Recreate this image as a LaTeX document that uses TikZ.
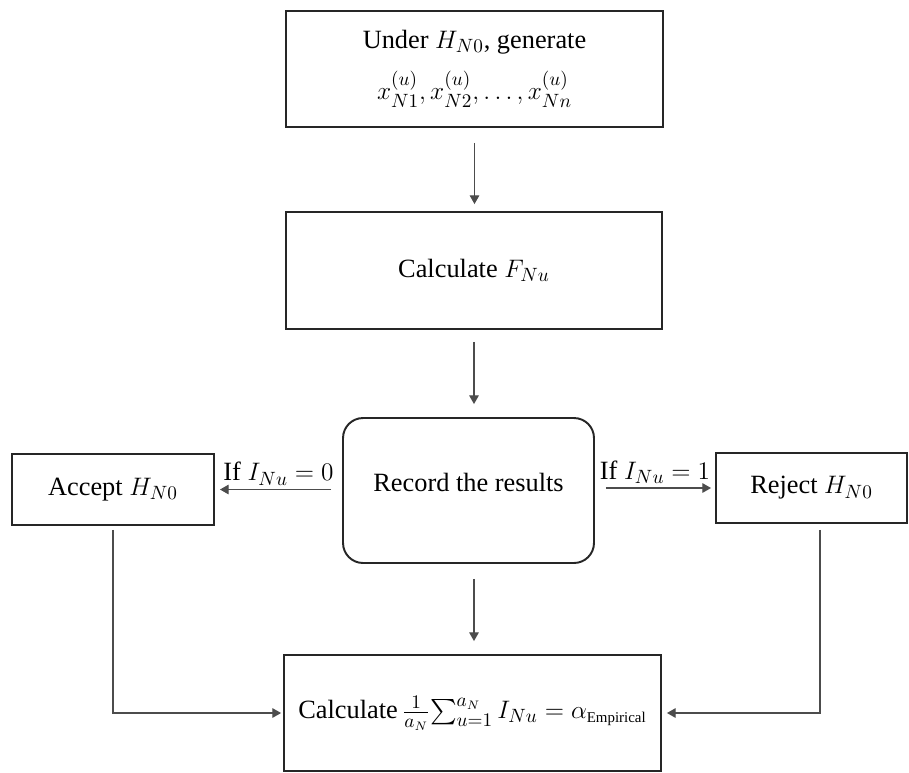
\documentclass[tikz,border=0pt]{standalone}
\usepackage{amsmath}
\usepackage{fontspec}
\setmainfont{Liberation Serif}
\usetikzlibrary{arrows.meta}
\begin{document}
\begin{tikzpicture}[x=0.02cm,y=-0.02cm,
  box/.style={draw=black!85, line width=1.1pt, inner sep=0pt, align=center, font=\fontsize{15}{18}\selectfont},
  conn/.style={draw=black!70, line width=0.65pt, -{Triangle[length=5pt,width=5.5pt]}},
  lbl/.style={font=\fontsize{15}{18}\selectfont, inner sep=2pt}]
\useasboundingbox (0,0) rectangle (909,772);
\node[box, minimum width=7.54cm, minimum height=2.32cm] (gen) at (474.5,69)
  {Under $H_{N0}$, generate\\[9pt] $x_{N1}^{(u)},x_{N2}^{(u)},\ldots,x_{Nn}^{(u)}$};
\node[box, minimum width=7.52cm, minimum height=2.34cm] (calc) at (474,270.5) {Calculate $F_{Nu}$};
\node[box, rounded corners=0.4cm, minimum width=5.02cm, minimum height=2.9cm, text depth=9pt] (rec) at (468.5,490.5) {Record the results};
\node[box, minimum width=4.04cm, minimum height=1.42cm] (acc) at (113,489.5) {Accept $H_{N0}$};
\node[box, minimum width=3.82cm, minimum height=1.4cm] (rej) at (811.5,488) {Reject $H_{N0}$};
\node[box, minimum width=7.54cm, minimum height=2.32cm] (bot) at (472.5,713)
  {Calculate\,$\frac{1}{a_N}{\sum}_{u=1}^{a_N}\, I_{Nu} = \alpha_{\text{\fontsize{8.5}{9}\selectfont Empirical}}$};
\draw[conn, shorten <=0.3cm, shorten >=0.14cm] (gen.south) -- (gen.south |- calc.north);
\draw[conn, shorten <=0.24cm, shorten >=0.26cm] (calc.south) -- (calc.south |- rec.north);
\draw[conn, shorten <=0.3cm, shorten >=0.26cm] (rec.south -| calc.south) -- (bot.north -| calc.south);
\draw[conn, shorten <=0.22cm, shorten >=0.1cm] (rec.west |- acc.east) -- (acc.east)
  node[lbl, midway, above] {If $I_{Nu}=0$};
\draw[conn, shorten <=0.22cm, shorten >=0.08cm] (rec.east |- rej.west) -- (rej.west)
  node[lbl, midway, above] {If $I_{Nu}=1$};
\draw[conn, shorten <=0.08cm, shorten >=0.04cm] (acc.south) |- (bot.west);
\draw[conn, shorten <=0.12cm, shorten >=0.1cm] ([xshift=0.17cm]rej.south) |- (bot.east);
\end{tikzpicture}
\end{document}
